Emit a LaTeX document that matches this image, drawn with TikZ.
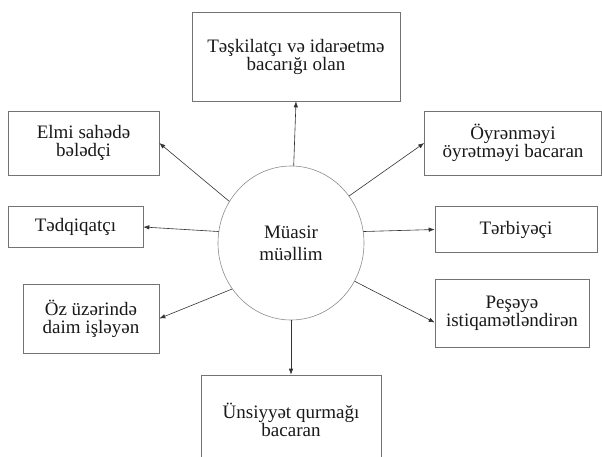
\documentclass[tikz,border=0pt]{standalone}
\usepackage{fontspec}
\setmainfont{Liberation Serif}
\usetikzlibrary{shapes.geometric,arrows.meta}

\begin{document}
\begin{tikzpicture}[x=1pt,y=-1pt,>={Latex[length=6pt,width=4.5pt]},
		vbox/.style={draw=black!55,line width=0.6pt,rectangle,align=center,inner sep=0pt,
			text=black!90,font=\rmfamily\fontsize{19}{18}\selectfont},
		mcirc/.style={draw=black!45,line width=0.6pt,ellipse,minimum width=146pt,minimum height=154pt,
			align=center,inner sep=0pt,text=black!90,font=\rmfamily\fontsize{19}{22}\selectfont},
		conn/.style={draw=black!80,line width=0.6pt}]
		\useasboundingbox (0,0) rectangle (602,457);
		\node[mcirc](m) at (291,243) {Müasir\\müəllim};
		\node[vbox,minimum width=208pt,minimum height=89pt](org) at (296,56.5) {Təşkilatçı və idarəetmə\\bacarığı olan};
		\node[vbox,minimum width=151pt,minimum height=64pt](elmi) at (83.5,143) {Elmi sahədə\\bələdçi};
		\node[vbox,minimum width=135pt,minimum height=41pt](tedq) at (75.5,227) {Tədqiqatçı};
		\node[vbox,minimum width=136pt,minimum height=69pt](oz) at (91,318.5) {Öz üzərində\\daim işləyən};
		\node[vbox,minimum width=180pt,minimum height=90pt](uns) at (291,420) {Ünsiyyət qurmağı\\bacaran};
		\node[vbox,minimum width=177pt,minimum height=64pt](oyr) at (513,143) {Öyrənməyi\\öyrətməyi bacaran};
		\node[vbox,minimum width=162pt,minimum height=46pt](terb) at (516,229.5) {Tərbiyəçi};
		\node[vbox,minimum width=154pt,minimum height=68pt](pese) at (512,313) {Peşəyə\\istiqamətləndirən};
		\path[->]
		(m.88) edge[conn] (org.south)
		(m.146) edge[conn] (elmi.east)
		(m.171) edge[conn] (tedq.east)
		(m.218) edge[conn] (oz.east)
		(m.south) edge[conn] (uns.north)
		(m.39) edge[conn] (oyr.west)
		(m.9) edge[conn] (terb.west)
		(m.329) edge[conn] (pese.187);
\end{tikzpicture}
\end{document}
